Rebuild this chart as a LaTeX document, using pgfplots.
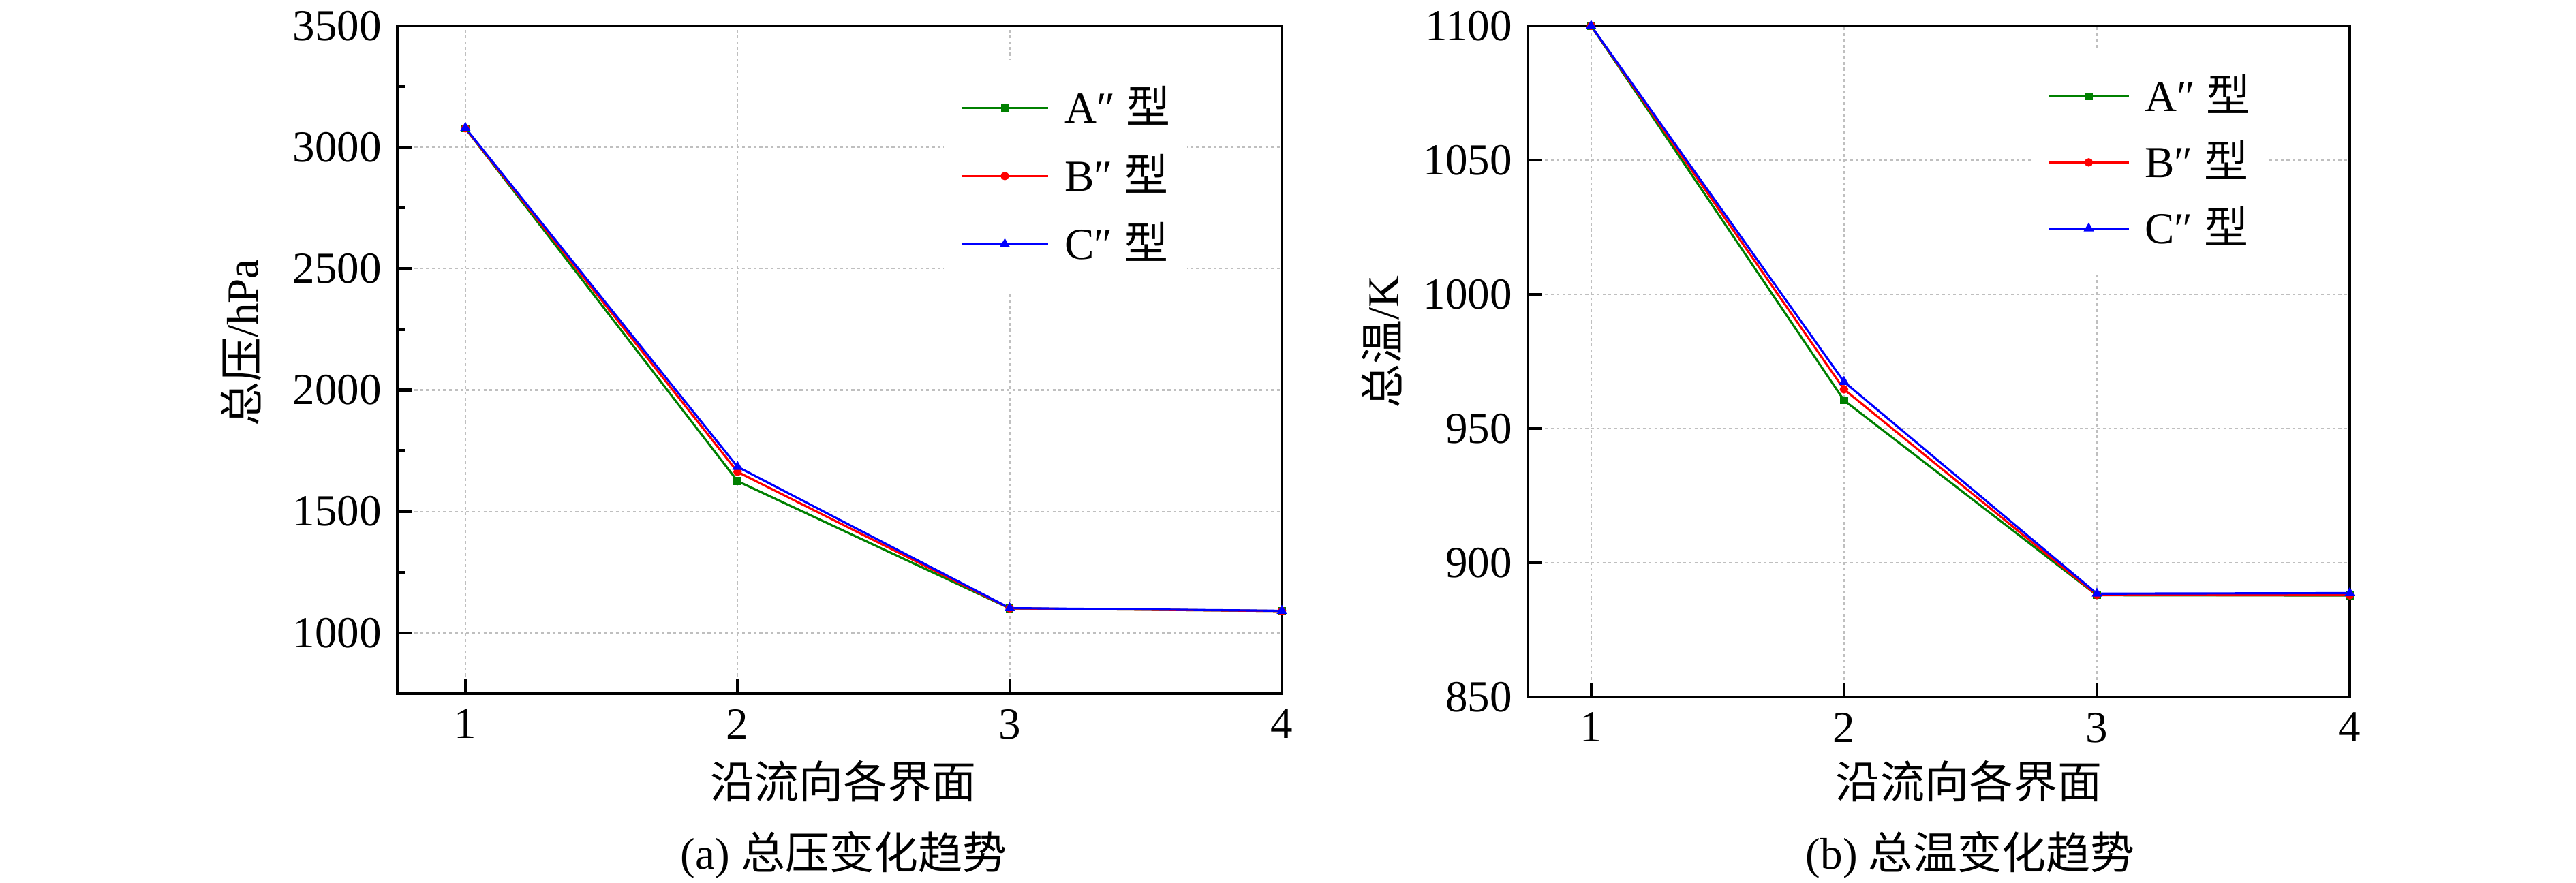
\documentclass[border=0pt]{standalone}
\usepackage{fontspec}
\setmainfont{Liberation Serif}
\newfontfamily\cjk{Noto Sans CJK SC}
\usepackage{pgfplots}
\pgfplotsset{compat=1.18}
\definecolor{cA}{RGB}{0,128,0}
\definecolor{cB}{RGB}{255,0,0}
\definecolor{cC}{RGB}{0,0,255}
\pgfplotsset{
  common/.style={
    scale only axis,
    xmin=0.75, xmax=4,
    xtick={1,2,3,4},
    tick align=inside,
    xtick pos=lower, ytick pos=lower,
    grid=major,
    grid style={line width=0.3pt, color=black!25, dash pattern=on 0.6pt off 0.6pt},
    axis line style={line width=0.6pt},
    every tick/.style={line width=0.6pt, black},
    major tick length=0.105cm,
    minor tick length=0.06cm,
    scaled ticks=false,
    /pgf/number format/assume math mode=true,
    /pgf/number format/1000 sep={},
    every axis plot/.append style={line width=0.45pt},
    legend cell align=left,
  },
  sA/.style={color=cA, mark=square*, mark size=0.6pt, mark options={solid}},
  sB/.style={color=cB, mark=*, mark size=0.65pt, mark options={solid}},
  sC/.style={color=cC, mark=triangle*, mark size=0.8pt, mark options={solid}},
}
\begin{document}
{\fontsize{9.25pt}{11pt}\selectfont
\begin{tikzpicture}
\path[use as bounding box] (0,0) rectangle (18.9cm,6.48cm);
% ---------------- (a) ----------------
\begin{axis}[common,
  at={(2.915cm,1.39cm)}, anchor=south west,
  width=6.49cm, height=4.90cm,
  ymin=750, ymax=3500, ytick={1000,1500,2000,2500,3000,3500},
  minor y tick num=1,
  xlabel={\cjk 沿流向各界面},
  xlabel style={at={(axis description cs:0.5046,0)}, anchor=center, yshift=-0.645cm},
  ylabel={{\cjk 总压}/hPa},
  ylabel style={at={(axis description cs:-0.1764,0.5255)}, anchor=center},
  legend style={draw=none, fill=white, inner xsep=0.12cm, inner ysep=0.1cm,
    at={(axis description cs:0.6171,0.950)}, anchor=north west,
    column sep=0.115cm, nodes={inner sep=0pt, minimum height=0.5cm}},
  legend image code/.code={\draw[mark repeat=2,mark phase=2] plot coordinates {(0cm,0cm) (0.3175cm,0cm) (0.635cm,0cm)};},
]
\addplot[sA] coordinates {(1,3078) (2,1625) (3,1101) (4,1090)};
\addplot[sB] coordinates {(1,3078) (2,1663) (3,1101) (4,1090)};
\addplot[sC] coordinates {(1,3080) (2,1684) (3,1102) (4,1091)};
\legend{A″ {\cjk 型},B″ {\cjk 型},C″ {\cjk 型}}
\end{axis}
% ---------------- (b) ----------------
\begin{axis}[common,
  at={(11.21cm,1.365cm)}, anchor=south west,
  width=6.03cm, height=4.925cm,
  ymin=850, ymax=1100, ytick={850,900,950,1000,1050,1100},
  xlabel={\cjk 沿流向各界面},
  xlabel style={at={(axis description cs:0.5365,0)}, anchor=center, yshift=-0.62cm},
  ylabel={{\cjk 总温}/K},
  ylabel style={at={(axis description cs:-0.1783,0.529)}, anchor=center},
  legend style={draw=none, fill=white, inner xsep=0.12cm, inner ysep=0.1cm,
    at={(axis description cs:0.6111,0.966)}, anchor=north west,
    column sep=0.11cm, nodes={inner sep=0pt, minimum height=0.485cm}},
  legend image code/.code={\draw[mark repeat=2,mark phase=2] plot coordinates {(0cm,0cm) (0.295cm,0cm) (0.59cm,0cm)};},
]
\addplot[sA] coordinates {(1,1100) (2,960.5) (3,887.9) (4,887.8)};
\addplot[sB] coordinates {(1,1100) (2,964.6) (3,888.0) (4,887.9)};
\addplot[sC] coordinates {(1,1100) (2,967.4) (3,888.5) (4,888.7)};
\legend{A″ {\cjk 型},B″ {\cjk 型},C″ {\cjk 型}}
\end{axis}
% captions
\node[anchor=center] at (6.19cm,0.205cm) {(a) {\cjk 总压变化趋势}};
\node[anchor=center] at (14.455cm,0.205cm) {(b) {\cjk 总温变化趋势}};
\end{tikzpicture}}
\end{document}
